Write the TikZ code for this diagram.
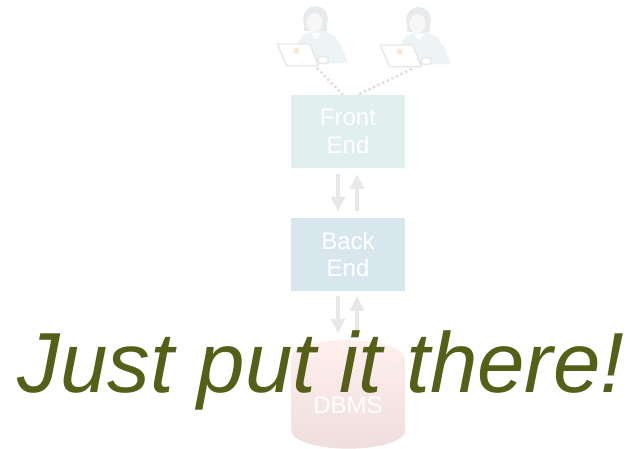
\documentclass[tikz,border=0pt]{standalone}
\usepackage{fontspec}
\setmainfont{Liberation Sans}
\usepackage{xcolor}
\usetikzlibrary{arrows.meta, positioning}
\definecolor{frontfill}{HTML}{E1EFEF}
\definecolor{backfill}{HTML}{D8E7EE}
\definecolor{arrowgray}{HTML}{E8E8E8}
\definecolor{shout}{HTML}{565F18}
\definecolor{userbody}{HTML}{EEF4F6}
\definecolor{userhair}{HTML}{E7EBED}
\definecolor{userline}{HTML}{E8E8E4}
\definecolor{dbmstop}{HTML}{FFF0EE}
\definecolor{dbmsmid}{HTML}{FFDFDC}
\definecolor{dbmsbot}{HTML}{EEDEDE}

\begin{document}
\begin{tikzpicture}[
    x=0.75pt, y=-0.75pt,
    node distance=37pt,
    box/.style={minimum height=54.75pt, minimum width=85.5pt, inner sep=0pt,
                align=center, text=white, font=\fontsize{18}{20.5}\selectfont},
    frontbox/.style={box, fill=frontfill},
    backbox/.style={box, fill=backfill},
    flow/.style={-{Triangle[length=11pt, width=10.5pt]}, line width=2.4pt, arrowgray},
    link/.style={draw=black!12, line width=1.9pt, dash pattern=on 1.9pt off 1.9pt},
    user/.pic={
        \fill[userbody] (-11.7,-1) -- (-1.7,-5.3) -- (10,-5.3) -- (20,0.7)
            -- (26.7,10.7) -- (33.3,27.3) -- (-16.7,27.3) -- (-17.7,7.3) -- cycle;
        \fill[userhair] (0.5,-17) ellipse (12.5 and 13);
        \fill[userhair] (-11,-15) rectangle (12,-5);
        \fill[white!97!black] (-0.5,-13.5) ellipse (8 and 9.5);
        \fill[white] (-4,-3) -- (6,-3) -- (1,3) -- cycle;
        \filldraw[draw=userline, fill=white, line width=1.1pt, line join=round]
            (-37.7,8) -- (-5,8) -- (3.3,29.7) -- (-28.3,29.7) -- cycle;
        \filldraw[draw=userline, fill=white, line width=1.1pt, rounded corners=2pt]
            (3.3,20.7) rectangle (13.3,27.3);
        \fill[orange!18] (-18.3,14.7) circle (3);
        \coordinate (-base) at (0,32);
    },
]
% Users
\pic (user1) at (315,36) {user};
\pic (user2) at (418,37) {user};

% Tiers
\node[frontbox] (front) at (348,131.5) {Front\\End};
\node[backbox, below=of front] (back) {Back\\End};
\node[minimum width=85.5pt, minimum height=81pt, inner sep=0pt, below=36.75pt of back] (dbms) {};
\shade[top color=dbmstop, middle color=dbmsmid, bottom color=dbmsbot]
    ([yshift=-13.5pt]dbms.north west) arc[start angle=180, end angle=0, x radius=42.75pt, y radius=13.5pt]
    -- ([yshift=13.5pt]dbms.south east) arc[start angle=360, end angle=180, x radius=42.75pt, y radius=13.5pt]
    -- cycle;
\draw[black!7] ([yshift=-13.5pt]dbms.north west) arc[start angle=180, end angle=360, x radius=42.75pt, y radius=13.5pt];
\node[text=white, font=\fontsize{18}{20}\selectfont] (dbmslabel) at (348,405) {DBMS};

\draw[link] ([xshift=1.25pt]user1-base) -- ([xshift=-3.75pt]front.north);
\draw[link] ([xshift=-4.7pt]user2-base) -- ([xshift=7.5pt]front.north);

\draw[flow] ([xshift=-7.5pt, yshift=-4.5pt]front.south) -- ([xshift=-7.5pt, yshift=4.75pt]back.north);
\draw[flow] ([xshift=6.75pt, yshift=4.75pt]back.north) -- ([xshift=6.75pt, yshift=-4.5pt]front.south);
\draw[flow] ([xshift=-7.5pt, yshift=-3.75pt]back.south) -- ([xshift=-7.5pt, yshift=5pt]dbms.north);
\draw[flow] ([xshift=6.75pt, yshift=5pt]dbms.north) -- ([xshift=6.75pt, yshift=-3.75pt]back.south);

% Caption
\node[anchor=base, inner sep=0pt, text=shout, font=\fontsize{64}{70}\selectfont\itshape] (caption) at (321,392) {Just put it there!};

\useasboundingbox (0,0) rectangle (631,449);
\end{tikzpicture}
\end{document}
